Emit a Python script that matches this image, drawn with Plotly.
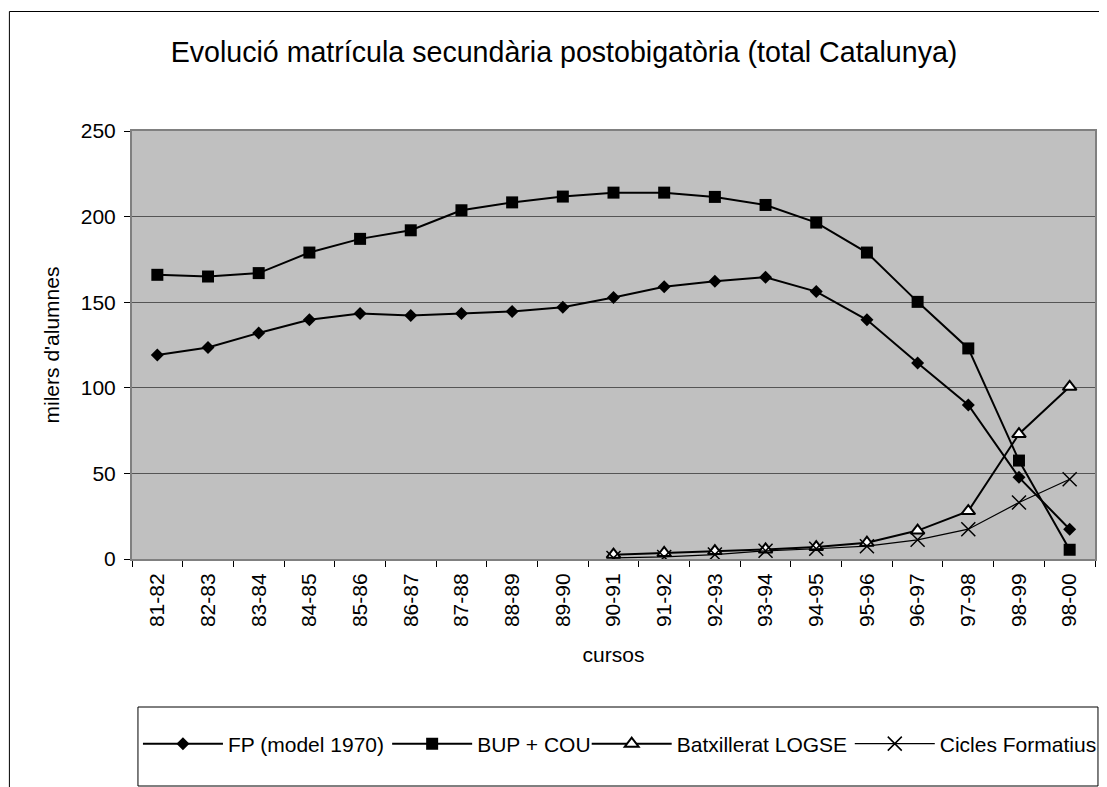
import plotly.graph_objects as go

cursos = ["81-82", "82-83", "83-84", "84-85", "85-86", "86-87", "87-88", "88-89",
          "89-90", "90-91", "91-92", "92-93", "93-94", "94-95", "95-96", "96-97",
          "97-98", "98-99", "98-00"]

fp_1970 = [119.1, 123.6, 132.0, 139.7, 143.4, 142.2, 143.4, 144.6, 147.0, 152.7,
           159.0, 162.3, 164.6, 156.2, 139.7, 114.5, 90.0, 47.7, 17.4]
bup_cou = [166.0, 165.0, 167.0, 179.0, 187.0, 192.0, 203.7, 208.3, 211.7, 214.0,
           214.0, 211.5, 206.8, 196.5, 179.0, 150.2, 123.0, 57.5, 5.4]
batx_logse = [None, None, None, None, None, None, None, None, None, 2.5,
              3.5, 4.6, 5.6, 7.0, 9.5, 16.6, 28.0, 73.0, 100.6]
cicles_form = [None, None, None, None, None, None, None, None, None, 0.6,
               1.2, 2.6, 4.8, 6.0, 7.5, 11.2, 17.4, 33.0, 46.6]

series_names = ["FP (model 1970)", "BUP + COU", "Batxillerat LOGSE", "Cicles Formatius"]

title_text = "Evolució matrícula secundària postobigatòria (total Catalunya)"
y_title = "milers d'alumnes"
x_title = "cursos"

# The page body has an 8px margin, so the figure is sized to fill the rest.
W, H = 1099, 779
ML, MR, MT, MB = 124, 5, 123, 228
PW, PH = W - ML - MR, H - MT - MB


def px(x):
    return (x - ML) / PW


def py(y):
    return (H - MB - y) / PH


FONT = "Liberation Sans, Arial, sans-serif"

fig = go.Figure()
fig.add_trace(go.Scatter(
    x=cursos, y=fp_1970, name=series_names[0], mode="lines+markers",
    line=dict(color="black", width=2), legend="legend",
    marker=dict(symbol="diamond", size=10, color="black")))
fig.add_trace(go.Scatter(
    x=cursos, y=bup_cou, name=series_names[1], mode="lines+markers",
    line=dict(color="black", width=2), legend="legend2",
    marker=dict(symbol="square", size=12, color="black")))
fig.add_trace(go.Scatter(
    x=cursos, y=batx_logse, name=series_names[2], mode="lines+markers",
    line=dict(color="black", width=2), legend="legend3",
    marker=dict(symbol="triangle-up", size=12, color="white",
                line=dict(color="black", width=2))))
fig.add_trace(go.Scatter(
    x=cursos, y=cicles_form, name=series_names[3], mode="lines+markers",
    line=dict(color="black", width=1.2), legend="legend4",
    marker=dict(symbol="x-thin", size=14, color="black",
                line=dict(color="black", width=1.5))))

shapes = [
    # outer chart frame
    dict(type="rect", xref="paper", yref="paper",
         x0=px(0.5), x1=px(1110), y0=py(800), y1=py(3.5),
         line=dict(color="black", width=1), fillcolor="rgba(0,0,0,0)", layer="below"),
    # legend frame
    dict(type="rect", xref="paper", yref="paper",
         x0=px(130), x1=px(1097), y0=py(778), y1=py(699),
         line=dict(color="black", width=1), fillcolor="white", layer="below"),
]


def legend_at(xpix):
    return dict(orientation="h", x=px(xpix), xanchor="left",
                y=py(736), yanchor="middle", itemwidth=80,
                bgcolor="rgba(0,0,0,0)", borderwidth=0,
                font=dict(size=21, family=FONT, color="black"))


fig.update_layout(
    width=W, height=H,
    margin=dict(l=ML, r=MR, t=MT, b=MB),
    paper_bgcolor="white",
    plot_bgcolor="#C0C0C0",
    font=dict(family=FONT, size=21, color="black"),
    title=dict(text=title_text, x=556 / W, xanchor="center",
               y=1 - 44 / H, yanchor="middle", yref="container",
               font=dict(size=28.6, family=FONT, color="black")),
    showlegend=True,
    legend=legend_at(130),
    legend2=legend_at(381),
    legend3=legend_at(582),
    legend4=legend_at(847),
    shapes=shapes,
)

fig.update_xaxes(
    type="category", range=[-0.5, 18.5],
    tickangle=-90, tickson="boundaries", ticks="outside", ticklen=6,
    tickcolor="black", showline=True, linecolor="#808080", linewidth=2,
    mirror=True, showgrid=False, ticklabelstandoff=4,
    tickfont=dict(size=21, family=FONT),
    title=dict(text=x_title, standoff=21, font=dict(size=21, family=FONT)),
)
fig.update_yaxes(
    range=[0, 250], dtick=50, ticks="outside", ticklen=6, tickcolor="black",
    showline=True, linecolor="#808080", linewidth=2, mirror=True,
    showgrid=True, gridcolor="#555555", gridwidth=1, zeroline=False,
    ticklabelstandoff=4,
    tickfont=dict(size=21, family=FONT),
    title=dict(text=y_title, standoff=15, font=dict(size=21, family=FONT)),
)

fig.write_html("out.html")
